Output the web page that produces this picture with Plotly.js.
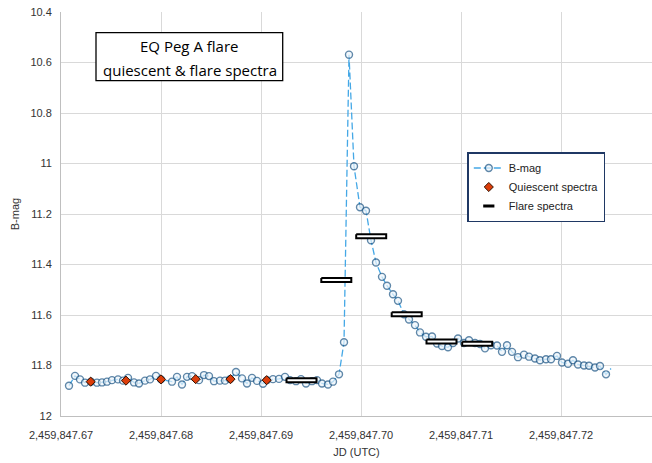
<!DOCTYPE html>
<html>
<head>
<meta charset="utf-8">
<script src="https://cdn.plot.ly/plotly-3.0.1.min.js"></script>
<style>html,body{margin:0;padding:0;background:#fff;}#chart{width:652px;height:463px;}</style>
</head>
<body>
<div id="chart"></div>
<script>
// B-mag photometry (JD, magnitude)
const jd = [
2459847.6708,2459847.6714,2459847.6719,2459847.6724,2459847.6730,2459847.6736,2459847.6741,2459847.6746,2459847.6751,2459847.6757,
2459847.6762,2459847.6767,2459847.6773,2459847.6778,2459847.6784,2459847.6789,2459847.6795,2459847.6800,2459847.6811,2459847.6816,
2459847.6821,2459847.6826,2459847.6831,2459847.6838,2459847.6843,2459847.6848,2459847.6853,2459847.6859,2459847.6864,2459847.6869,
2459847.6875,2459847.6881,2459847.6886,2459847.6891,2459847.6896,2459847.6902,2459847.6906,2459847.6912,2459847.6918,2459847.6924,
2459847.6929,2459847.6935,2459847.6940,2459847.6945,2459847.6951,2459847.6956,2459847.6961,2459847.6967,2459847.6972,2459847.6978,
2459847.6983,2459847.6988,2459847.6993,2459847.6999,2459847.7005,2459847.7010,2459847.7015,2459847.7021,2459847.7026,2459847.7032,
2459847.7037,2459847.7043,2459847.7048,2459847.7054,2459847.7059,2459847.7065,2459847.7071,2459847.7076,2459847.7081,2459847.7087,
2459847.7092,2459847.7097,2459847.7103,2459847.7108,2459847.7114,2459847.7119,2459847.7124,2459847.7130,2459847.7136,2459847.7141,
2459847.7146,2459847.7151,2459847.7157,2459847.7163,2459847.7168,2459847.7174,2459847.7179,2459847.7185,2459847.7190,2459847.7196,
2459847.7201,2459847.7207,2459847.7212,2459847.7217,2459847.7223,2459847.7228,2459847.7234,2459847.7239,2459847.7245,2459847.7250
];
const bmag = [
11.880,11.841,11.855,11.868,11.864,11.868,11.867,11.864,11.858,11.855,
11.860,11.849,11.867,11.871,11.860,11.855,11.841,11.855,11.864,11.845,
11.875,11.845,11.842,11.858,11.838,11.842,11.862,11.860,11.860,11.854,
11.826,11.851,11.871,11.849,11.861,11.872,11.858,11.854,11.853,11.845,
11.858,11.862,11.854,11.871,11.862,11.858,11.871,11.875,11.864,11.835,
11.708,10.569,11.011,11.173,11.187,11.304,11.392,11.449,11.484,11.518,
11.544,11.597,11.618,11.640,11.669,11.686,11.685,11.713,11.723,11.728,
11.711,11.693,11.711,11.700,11.711,11.715,11.732,11.720,11.721,11.746,
11.720,11.746,11.767,11.757,11.765,11.772,11.779,11.775,11.775,11.762,
11.788,11.793,11.779,11.796,11.800,11.801,11.808,11.802,11.835,11.812
];
// Quiescent spectra
const quietJD  = [2459847.67297,2459847.67650,2459847.68000,2459847.68347,2459847.68695,2459847.69057];
const quietMag = [11.864,11.860,11.855,11.854,11.854,11.858];
// Flare spectra
const flareJD  = [2459847.69405,2459847.69753,2459847.70102,2459847.70457,2459847.70805,2459847.71162];
const flareMag = [11.858,11.461,11.288,11.597,11.705,11.714];
// Tick labels
const xTickVals = [2459847.67,2459847.68,2459847.69,2459847.70,2459847.71,2459847.72];
const xTickText = ['2,459,847.67','2,459,847.68','2,459,847.69','2,459,847.70','2,459,847.71','2,459,847.72'];
const yTickVals = [10.4,10.6,10.8,11,11.2,11.4,11.6,11.8,12];
const yTickText = ['10.4','10.6','10.8','11','11.2','11.4','11.6','11.8','12'];

// flare spectrum boxes (half width in JD, half height in mag)
const hw = 0.0015, hh = 0.008;
const rx = [], ry = [];
flareJD.forEach((x, i) => {
  const y = flareMag[i];
  rx.push(x-hw, x+hw, x+hw, x-hw, x-hw, null);
  ry.push(y-hh, y-hh, y+hh, y+hh, y-hh, null);
});
const sizes = bmag.map((_, i) => i === bmag.length - 1 ? 0 : 7);

const traces = [
  {x: jd, y: bmag, name: 'B-mag', type: 'scatter', mode: 'lines+markers',
   line: {color: '#45a8e6', width: 1.3, dash: '7px,3px'},
   marker: {symbol: 'circle', size: sizes, color: '#eef6fc', line: {color: '#1d5686', width: 1.4}}},
  {x: quietJD, y: quietMag, name: 'Quiescent spectra', type: 'scatter', mode: 'markers',
   marker: {symbol: 'diamond', size: 7, color: '#dc3d0a', line: {color: '#331100', width: 1}}},
  {x: rx, y: ry, type: 'scatter', mode: 'lines', fill: 'toself', fillcolor: '#ffffff',
   line: {color: '#000000', width: 2}, showlegend: false, hoverinfo: 'skip'},
  {x: [null], y: [null], name: 'Flare spectra', type: 'scatter', mode: 'markers',
   marker: {symbol: 'line-ew', size: 8, color: '#000', line: {color: '#000', width: 3}}}
];

const L = 61, W = 652, T = 12, B = 416;
const px = v => (v - L) / (W - L);
const py = v => (B - v) / (B - T);

const layout = {
  width: 652, height: 463,
  margin: {l: 61, r: 0, t: 12, b: 47},
  paper_bgcolor: '#fff', plot_bgcolor: '#fff',
  font: {family: 'Liberation Sans, Arial, sans-serif', size: 11, color: '#333'},
  showlegend: true,
  xaxis: {
    range: [2459847.67, 2459847.7291],
    tickmode: 'array', tickvals: xTickVals, ticktext: xTickText,
    showgrid: true, gridcolor: '#d9d9d9', gridwidth: 1,
    showline: true, linecolor: '#bfbfbf', linewidth: 1,
    zeroline: false, ticks: '',
    tickfont: {size: 11, color: '#333'},
    ticklabelstandoff: 9,
    title: {text: 'JD (UTC)', font: {size: 11, color: '#333'}, standoff: 8}
  },
  yaxis: {
    range: [12, 10.4],
    tickmode: 'array', tickvals: yTickVals, ticktext: yTickText,
    showgrid: true, gridcolor: '#d9d9d9', gridwidth: 1,
    showline: true, linecolor: '#bfbfbf', linewidth: 1,
    zeroline: false, ticks: '',
    tickfont: {size: 11, color: '#333'},
    ticklabelstandoff: 6,
    title: {text: 'B-mag', font: {size: 11, color: '#333'}, standoff: 8}
  },
  legend: {
    x: px(467.3), y: py(152), xanchor: 'left', yanchor: 'top',
    bgcolor: '#fff', bordercolor: '#1f3864', borderwidth: 1.5,
    font: {size: 11, color: '#222'},
    tracegroupgap: 0
  },
  shapes: [
    {type: 'rect', xref: 'paper', yref: 'paper', x0: px(96), x1: px(282.7), y0: py(80.7), y1: py(32.7),
     line: {color: '#000', width: 1.3}, fillcolor: '#fff', layer: 'above'}
  ],
  annotations: [
    {xref: 'paper', yref: 'paper', x: px(189.5), y: py(46), xanchor: 'center', yanchor: 'middle',
     text: 'EQ Peg A flare', showarrow: false, font: {family: 'Open Sans, sans-serif', size: 15, color: '#000'}},
    {xref: 'paper', yref: 'paper', x: px(189.5), y: py(70), xanchor: 'center', yanchor: 'middle',
     text: 'quiescent &amp; flare spectra', showarrow: false, font: {family: 'Open Sans, sans-serif', size: 15, color: '#000'}}
  ]
};
traces.forEach((t, i) => { t.legendgroup = 'g' + i; });
Plotly.newPlot('chart', traces, layout, {displayModeBar: false, staticPlot: true});
</script>
</body>
</html>
